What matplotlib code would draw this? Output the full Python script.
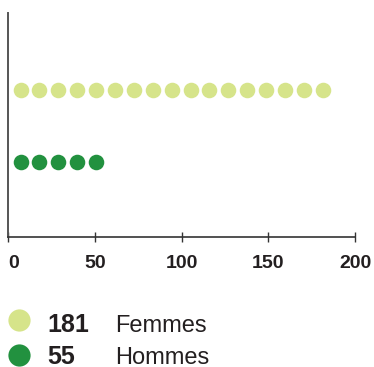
import numpy as np
import matplotlib.pyplot as plt

plt.rcParams['font.family'] = ['Liberation Sans', 'DejaVu Sans']

# data
categories = ['Femmes', 'Hommes']
values = [181, 55]
colors = ['#d6e48a', '#22913f']
per_dot = 10.9
xticks = [0, 50, 100, 150, 200]

text_col = '#231f20'
W, H = 374, 367

fig = plt.figure(figsize=(W / 100, H / 100), dpi=100)
ax = fig.add_axes([8.3 / W, 1 - 236.7 / H, (355 - 8.3) / W, (236.7 - 13) / H])

rows = [1, 0]
for val, col, row in zip(values, colors, rows):
    n = int(round(val / per_dot))
    xs = per_dot * (np.arange(n) + 0.5) + 1.6
    ax.plot(xs, np.full(n, row), 'o', ms=11.2, color=col, mec='none', clip_on=False)

ax.set_xlim(0, 200)
ax.set_ylim(-1.03, 2.07)
ax.spines['top'].set_visible(False)
ax.spines['right'].set_visible(False)
ax.spines['left'].set_color('#555555')
ax.spines['left'].set_linewidth(1.4)
ax.spines['bottom'].set_color('#333333')
ax.spines['bottom'].set_linewidth(1.2)
ax.set_yticks([])
ax.xaxis.set_ticks(xticks)
ax.tick_params(axis='x', direction='inout', length=6.5, width=1, color='#333333',
               pad=10, labelsize=14, labelcolor=text_col)
for lab in ax.get_xticklabels():
    lab.set_fontweight('bold')
ax.get_xticklabels()[0].set_horizontalalignment('left')

# legend below the axis
leg_y = [320.3, 355]
leg_base = [331.5, 363.5]
for val, cat, col, y, yb in zip(values, categories, colors, leg_y, leg_base):
    ax.plot([19 / W], [1 - y / H], 'o', ms=16, color=col, mec='none',
            transform=fig.transFigure, clip_on=False)
    fig.text(47 / W, 1 - yb / H, str(val), fontsize=18, fontweight='bold',
             color=text_col, va='baseline', ha='left')
    fig.text(115 / W, 1 - yb / H, cat, fontsize=17, color=text_col,
             va='baseline', ha='left')

fig.savefig('out.png', dpi=100)
